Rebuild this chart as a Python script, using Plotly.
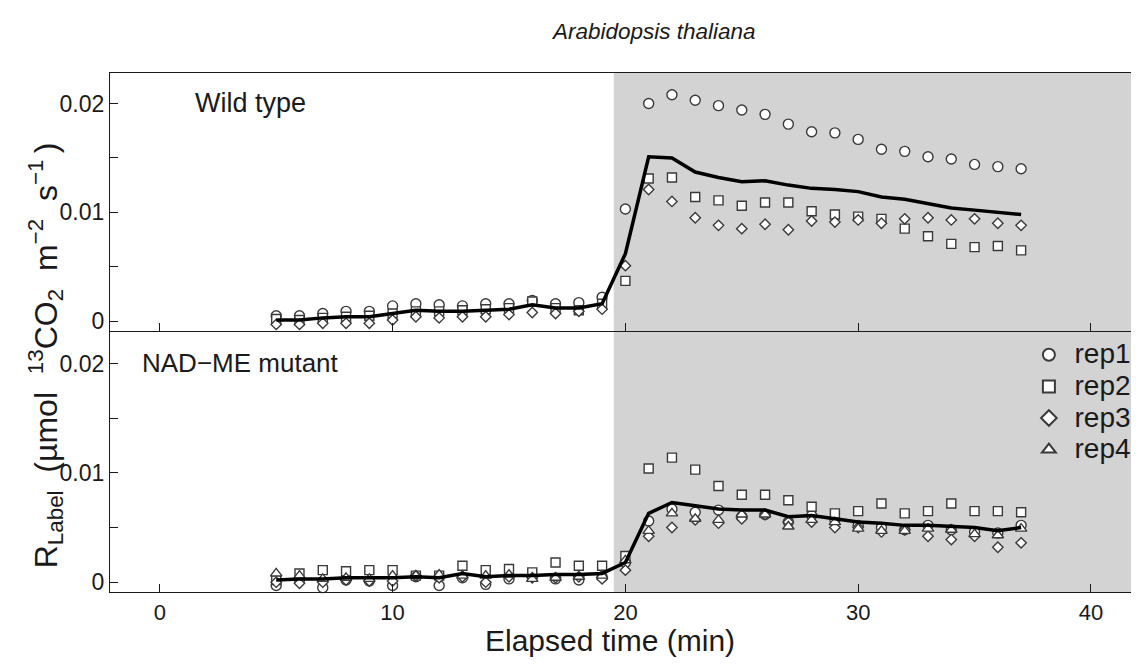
import plotly.graph_objects as go

# ---------------- data ----------------
time_min = list(range(5, 38))          # elapsed time (min)
label_start = 19.5                      # start of 13CO2 labelling (grey band)

# Wild type (R_Label, umol 13CO2 m-2 s-1)
wt_rep1 = [0.0005, 0.0005, 0.0007, 0.0009, 0.0009, 0.0014, 0.0016, 0.0015, 0.0014, 0.0016,
           0.0016, 0.0019, 0.0016, 0.0017, 0.0022,
           0.0103, 0.0200, 0.0208, 0.0203, 0.0198, 0.0194, 0.0190, 0.0181, 0.0174, 0.0173,
           0.0167, 0.0158, 0.0156, 0.0151, 0.0149, 0.0144, 0.0142, 0.0140]
wt_rep2 = [0.0002, 0.0001, 0.0003, 0.0004, 0.0005, 0.0007, 0.0009, 0.0009, 0.0010, 0.0011,
           0.0012, 0.0018, 0.0012, 0.0010, 0.0016,
           0.0037, 0.0131, 0.0132, 0.0114, 0.0111, 0.0106, 0.0109, 0.0109, 0.0101, 0.0098,
           0.0096, 0.0094, 0.0085, 0.0078, 0.0071, 0.0068, 0.0069, 0.0065]
wt_rep3 = [-0.0003, -0.0003, -0.0002, -0.0002, -0.0002, 0.0001, 0.0004, 0.0003, 0.0004, 0.0004,
           0.0006, 0.0008, 0.0007, 0.0009, 0.0011,
           0.0051, 0.0121, 0.0110, 0.0095, 0.0088, 0.0085, 0.0089, 0.0084, 0.0092, 0.0091,
           0.0093, 0.0090, 0.0094, 0.0095, 0.0093, 0.0094, 0.0090, 0.0088]
wt_mean = [0.0001, 0.0001, 0.0003, 0.0004, 0.0004, 0.0007, 0.0010, 0.0009, 0.0009, 0.0010,
           0.0011, 0.0015, 0.0012, 0.0012, 0.0016,
           0.0062, 0.0151, 0.0150, 0.0137, 0.0132, 0.0128, 0.0129, 0.0125, 0.0122, 0.0121,
           0.0119, 0.0114, 0.0112, 0.0108, 0.0104, 0.0102, 0.0100, 0.0098]

# NAD-ME mutant
mut_rep1 = [-0.0003, 0.0002, -0.0005, 0.0002, 0.0001, -0.0003, 0.0005, -0.0003, 0.0004, -0.0002,
            0.0003, 0.0005, 0.0003, 0.0002, 0.0005,
            0.0018, 0.0056, 0.0067, 0.0064, 0.0066, 0.0060, 0.0062, 0.0055, 0.0061, 0.0057,
            0.0052, 0.0050, 0.0048, 0.0052, 0.0048, 0.0046, 0.0045, 0.0052]
mut_rep2 = [0.0002, 0.0008, 0.0011, 0.0010, 0.0011, 0.0011, 0.0006, 0.0006, 0.0015, 0.0011,
            0.0012, 0.0009, 0.0018, 0.0015, 0.0015,
            0.0024, 0.0104, 0.0114, 0.0103, 0.0088, 0.0080, 0.0080, 0.0075, 0.0069, 0.0063,
            0.0065, 0.0072, 0.0063, 0.0065, 0.0072, 0.0065, 0.0065, 0.0064]
mut_rep3 = [0.0000, -0.0001, 0.0000, 0.0002, 0.0001, 0.0001, 0.0006, 0.0004, 0.0005, 0.0000,
            0.0005, 0.0004, 0.0004, 0.0005, 0.0003,
            0.0011, 0.0042, 0.0050, 0.0057, 0.0054, 0.0058, 0.0062, 0.0055, 0.0055, 0.0050,
            0.0050, 0.0046, 0.0048, 0.0042, 0.0039, 0.0042, 0.0032, 0.0036]
mut_rep4 = [0.0008, 0.0006, 0.0003, 0.0004, 0.0003, 0.0006, 0.0006, 0.0007, 0.0006, 0.0006,
            0.0007, 0.0003, 0.0004, 0.0005, 0.0006,
            0.0020, 0.0047, 0.0063, 0.0058, 0.0057, 0.0062, 0.0062, 0.0051, 0.0057, 0.0055,
            0.0049, 0.0047, 0.0047, 0.0049, 0.0048, 0.0044, 0.0043, 0.0049]
mut_mean = [0.0002, 0.0003, 0.0003, 0.0004, 0.0004, 0.0004, 0.0005, 0.0004, 0.0008, 0.0005,
            0.0006, 0.0006, 0.0007, 0.0007, 0.0008,
            0.0018, 0.0063, 0.0073, 0.0070, 0.0067, 0.0066, 0.0066, 0.0060, 0.0061, 0.0058,
            0.0055, 0.0054, 0.0052, 0.0052, 0.0051, 0.0050, 0.0047, 0.0050]

rep_names = ["rep1", "rep2", "rep3", "rep4"]
x_tick_vals = [0, 10, 20, 30, 40]
y_tick_vals = [0, 0.01, 0.02]
y_tick_text = ["0", "0.01", "0.02"]
y_minor_vals = [0.005, 0.015]

# ---------------- style ----------------
FONT = "Liberation Sans, Arial, sans-serif"
INK = "#1a1a1a"
MARK_EDGE = "#3a3a3a"
symbols = {"rep1": ("circle", 10), "rep2": ("square", 9), "rep3": ("diamond", 8),
           "rep4": ("triangle-up", 10)}

fig = go.Figure()


def add_reps(series, xa, ya, legend):
    for name, vals in series:
        sym, size = symbols[name]
        fig.add_trace(go.Scatter(
            x=time_min, y=vals, mode="markers",
            name="<span style='font-size:28px'>\u2009" + name + "</span>",
            xaxis=xa, yaxis=ya, showlegend=legend, legendgroup=name,
            marker=dict(symbol=sym, size=size, color="white",
                        line=dict(color=MARK_EDGE, width=1.4)),
            cliponaxis=False))


add_reps([("rep1", wt_rep1), ("rep2", wt_rep2), ("rep3", wt_rep3)], "x2", "y2", False)
fig.add_trace(go.Scatter(x=time_min, y=wt_mean, mode="lines", xaxis="x2", yaxis="y2",
                         showlegend=False, line=dict(color="black", width=3.5)))

add_reps([("rep1", mut_rep1), ("rep2", mut_rep2), ("rep3", mut_rep3), ("rep4", mut_rep4)],
         "x", "y", True)
fig.add_trace(go.Scatter(x=time_min, y=mut_mean, mode="lines", xaxis="x", yaxis="y",
                         showlegend=False, line=dict(color="black", width=3.5)))

x_range = [-2.14, 41.72]
split = 0.503

common_x = dict(range=x_range, tickvals=x_tick_vals, ticks="inside", ticklen=8, tickwidth=1.2,
                tickcolor=INK, showline=True, linecolor=INK, linewidth=1.3,
                showgrid=False, zeroline=False, tickfont=dict(family=FONT, size=22, color=INK))
common_y = dict(tickvals=y_tick_vals, ticktext=y_tick_text, ticks="inside", ticklen=8,
                tickwidth=1.2, tickcolor=INK, showline=True, linecolor=INK, linewidth=1.3,
                showgrid=False, zeroline=False, tickfont=dict(family=FONT, size=23, color=INK),
                minor=dict(tickvals=y_minor_vals, ticks="inside", ticklen=8, tickwidth=1.2,
                           tickcolor=INK, showgrid=False))


def px_x(px):
    return (px - 110) / 1026


def px_y(py):
    return (592 - py) / 519


SP = "\u00a0\u00a0"
y_title = ("R<sub>Label</sub>" + SP + "(\u00b5mol" + SP + "<sup>13</sup>CO<sub>2</sub>" + SP
           + "m<sup>\u22122</sup>" + SP + "s<sup>\u22121</sup>\u2009)")

fig.update_layout(
    width=1136, height=666,
    margin=dict(l=110, r=0, t=73, b=74),
    paper_bgcolor="white", plot_bgcolor="white",
    font=dict(family=FONT, color=INK),
    xaxis=dict(domain=[0, 1], anchor="y", **common_x),
    yaxis=dict(domain=[0, split], anchor="x", range=[-0.0009, 0.023], **common_y),
    xaxis2=dict(domain=[0, 1], anchor="y2", matches="x", showticklabels=False, mirror=True,
                **common_x),
    yaxis2=dict(domain=[split, 1], anchor="x2", range=[-0.0009, 0.0228], **common_y),
    shapes=[
        dict(type="rect", xref="x", yref="y domain", x0=label_start, x1=x_range[1], y0=0, y1=1,
             fillcolor="#d3d3d3", line=dict(width=0), layer="below"),
        dict(type="rect", xref="x2", yref="y2 domain", x0=label_start, x1=x_range[1], y0=0, y1=1,
             fillcolor="#d3d3d3", line=dict(width=0), layer="below"),
    ],
    legend=dict(x=0.9, y=px_y(334), xanchor="left", yanchor="top", bgcolor="rgba(0,0,0,0)",
                font=dict(family=FONT, size=22, color=INK), itemsizing="constant",
                traceorder="grouped", tracegroupgap=0),
    annotations=[
        dict(text="<i>Arabidopsis thaliana</i>", xref="paper", yref="paper",
             x=px_x(656), y=px_y(32), xanchor="center", yanchor="middle", showarrow=False,
             font=dict(family=FONT, size=22.5, color=INK)),
        dict(text="Wild type", xref="paper", yref="paper", x=px_x(193), y=px_y(103),
             xanchor="left", yanchor="middle", showarrow=False,
             font=dict(family=FONT, size=27, color=INK)),
        dict(text="NAD\u2212ME mutant", xref="paper", yref="paper", x=px_x(140), y=px_y(363),
             xanchor="left", yanchor="middle", showarrow=False,
             font=dict(family=FONT, size=26, color=INK)),
        dict(text="Elapsed time (min)", xref="paper", yref="paper", x=px_x(612), y=px_y(640),
             xanchor="center", yanchor="middle", showarrow=False,
             font=dict(family=FONT, size=30, color=INK)),
        dict(text=y_title, xref="paper", yref="paper", x=px_x(45), y=px_y(355),
             xanchor="center", yanchor="middle",
             textangle=-90, showarrow=False, font=dict(family=FONT, size=32, color=INK)),
    ],
)

fig.write_html("out.html")
